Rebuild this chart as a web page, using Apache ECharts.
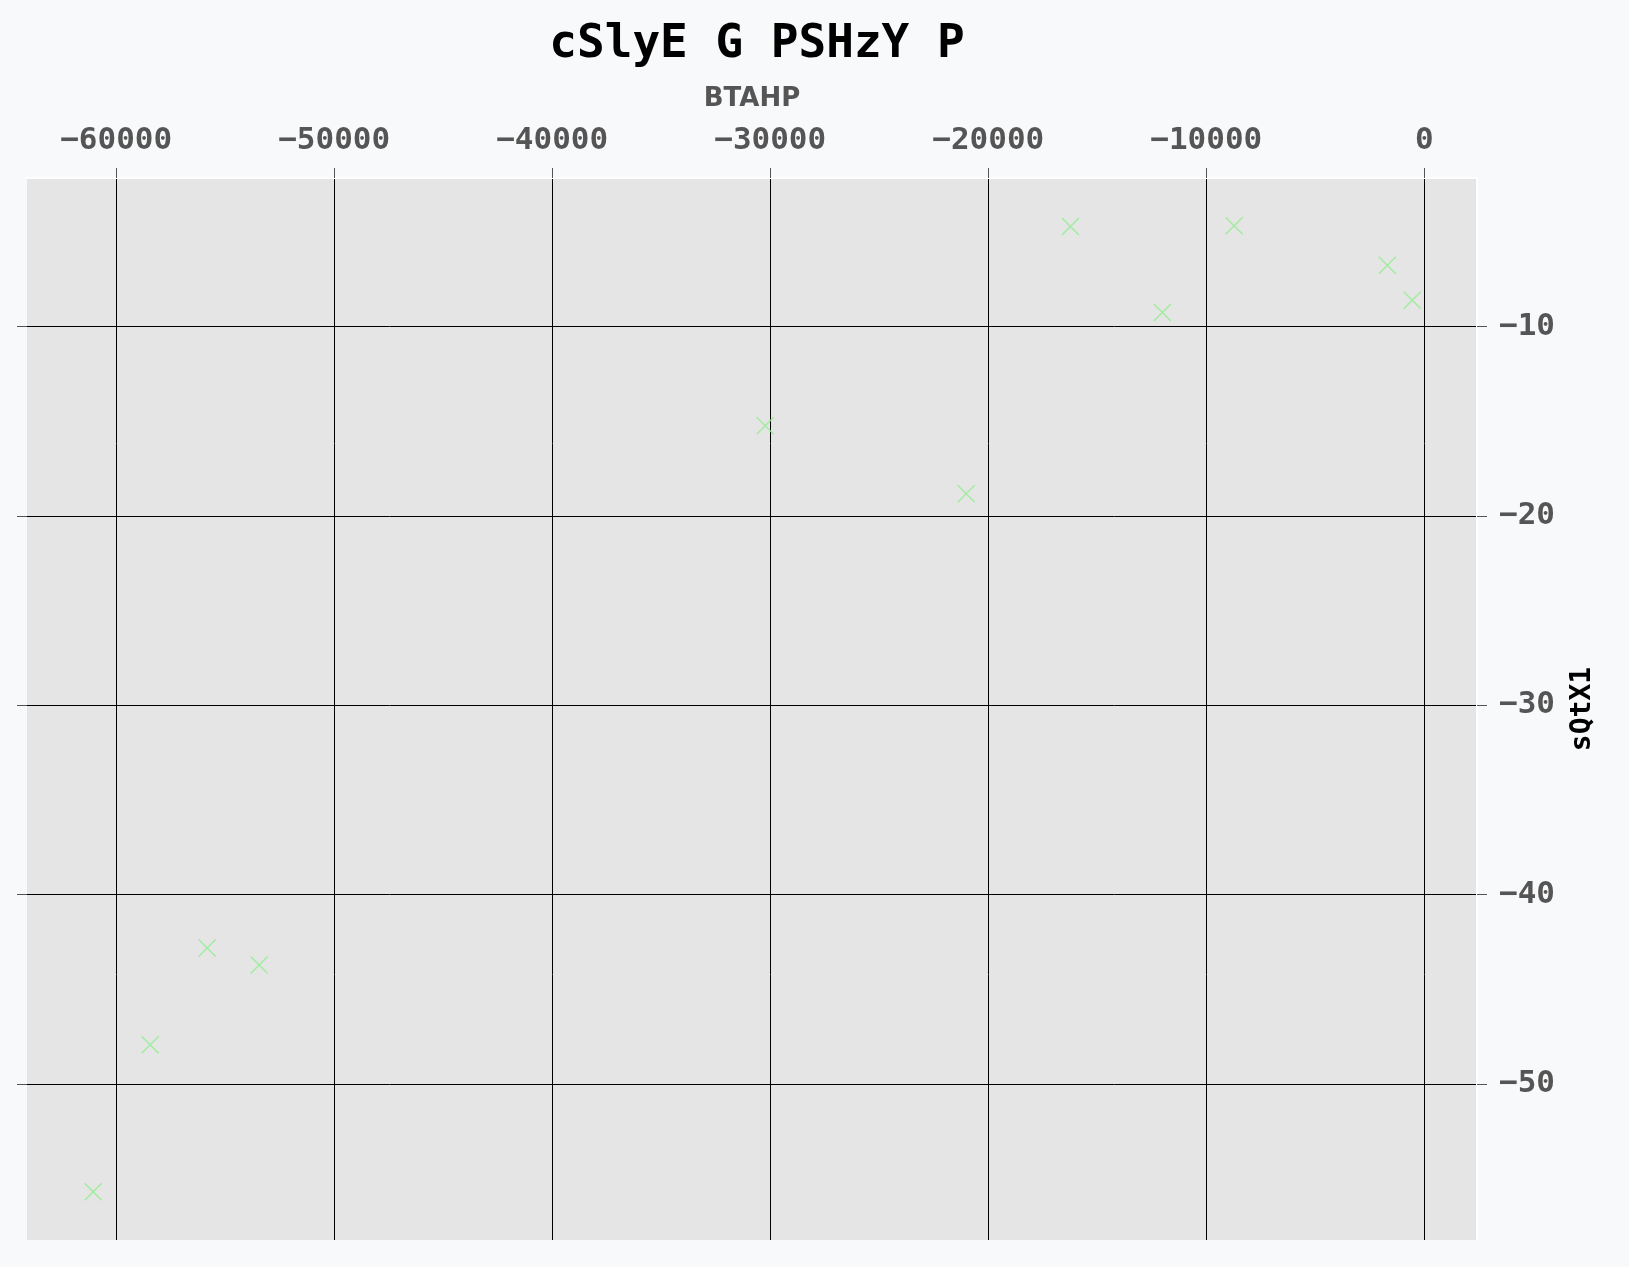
<!DOCTYPE html>
<html>
<head>
<meta charset="utf-8">
<script src="https://cdn.jsdelivr.net/npm/echarts@6/dist/echarts.min.js"></script>
<style>
html,body{margin:0;padding:0;background:#f8f9fb;}
#c{width:1629px;height:1267px;}
</style>
</head>
<body>
<div id="c"></div>
<script>
const titleText = 'cSlyE G PSHzY P';
const xName = 'BTAHP';
const yName = 'sQtX1';
const xValues = [-61055, -58440, -55826, -53440, -30229, -21009, -16229, -12013, -8720, -1693, -550];
const yValues = [-55.70, -47.94, -42.83, -43.72, -15.24, -18.83, -4.71, -9.25, -4.67, -6.76, -8.61];
const xTicks = [-60000, -50000, -40000, -30000, -20000, -10000, 0];
const yTicks = [-50, -40, -30, -20, -10];
const xRange = [-64090, 2420];
const yRange = [-58.25, -2.15];

const fmt = v => String(v).replace('-', '\u2212');
const mono = "'DejaVu Sans Mono', monospace";

const chart = echarts.init(document.getElementById('c'), null, {renderer: 'canvas'});
chart.setOption({
  backgroundColor: '#f8f9fb',
  animation: false,
  title: {
    text: titleText,
    left: 752,
    textAlign: 'center',
    top: 17,
    textStyle: {fontFamily: mono, fontWeight: 'bold', fontSize: 46, color: '#000'}
  },
  grid: {
    left: 27, right: 152, top: 178, bottom: 27,
    show: true, backgroundColor: '#e5e5e5', borderWidth: 0
  },
  xAxis: {
    type: 'value',
    position: 'top',
    min: xRange[0], max: xRange[1],
    name: xName,
    nameLocation: 'middle',
    nameGap: 79,
    nameTextStyle: {fontFamily: "'DejaVu Sans', sans-serif", fontWeight: 'bold', fontSize: 26, color: '#555', verticalAlign: 'middle'},
    axisLine: {show: true, onZero: false, lineStyle: {color: '#ffffff', width: 2}},
    axisTick: {show: true, length: 10, lineStyle: {color: '#555', width: 1}, customValues: xTicks},
    axisLabel: {
      customValues: xTicks,
      margin: 22,
      formatter: fmt,
      fontFamily: mono, fontWeight: 'bold', fontSize: 31, color: '#555'
    },
    splitLine: {show: true, lineStyle: {color: '#000', width: 1}}
  },
  yAxis: [{
    type: 'value',
    position: 'right',
    min: yRange[0], max: yRange[1],
    name: yName,
    nameLocation: 'middle',
    nameGap: 106,
    nameRotate: 90,
    nameTextStyle: {fontFamily: mono, fontWeight: 'bold', fontSize: 28, color: '#000', verticalAlign: 'middle'},
    axisLine: {show: true, onZero: false, lineStyle: {color: '#ffffff', width: 2}},
    axisTick: {show: true, length: 10, lineStyle: {color: '#555', width: 1}, customValues: yTicks},
    axisLabel: {
      customValues: yTicks,
      margin: 22,
      formatter: fmt,
      fontFamily: mono, fontWeight: 'bold', fontSize: 31, color: '#555'
    },
    splitLine: {show: true, lineStyle: {color: '#000', width: 1}}
  }, {
    type: 'value',
    position: 'left',
    min: yRange[0], max: yRange[1],
    axisLine: {show: false, onZero: false},
    axisTick: {show: true, length: 10, lineStyle: {color: '#555', width: 1}, customValues: yTicks},
    axisLabel: {show: false},
    splitLine: {show: false}
  }],
  series: [{
    type: 'scatter',
    yAxisIndex: 0,
    data: xValues.map((x, i) => [x, yValues[i]]),
    symbol: 'path://M0,0L10,10M10,0L0,10',
    symbolSize: 17,
    itemStyle: {color: 'rgba(0,0,0,0)', borderColor: '#90ee90', borderWidth: 1.5},
    emphasis: {disabled: true}
  }]
});
</script>
</body>
</html>
